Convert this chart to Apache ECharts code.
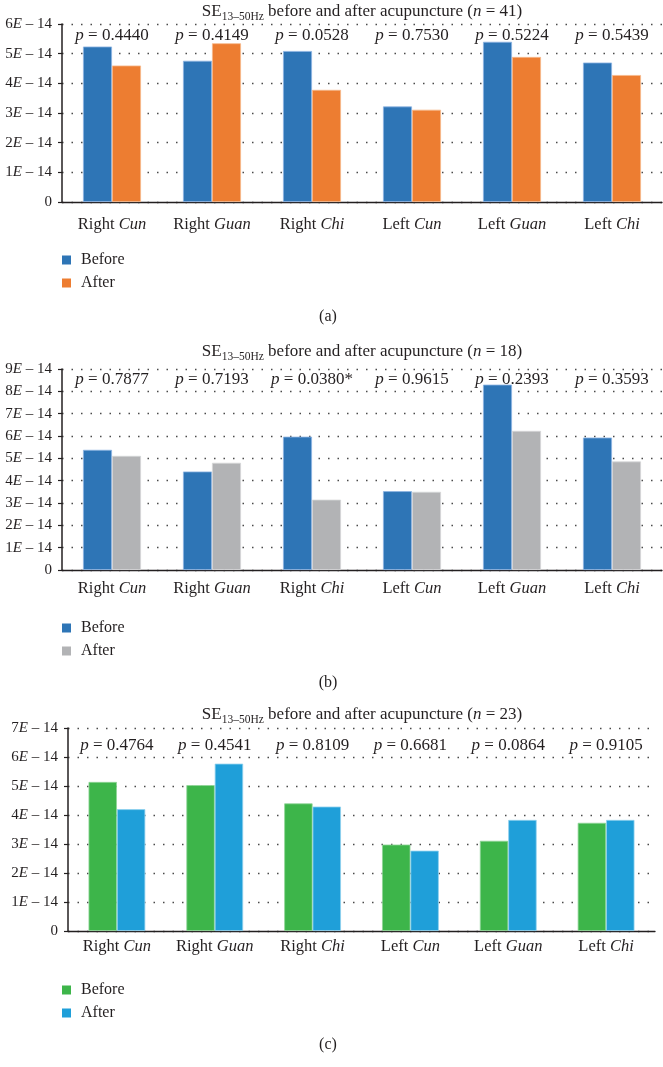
<!DOCTYPE html>
<html>
<head>
<meta charset="utf-8">
<script src="https://cdn.jsdelivr.net/npm/echarts@6/dist/echarts.min.js"></script>
<style>
html,body{margin:0;padding:0;background:#fff;}
.c{position:absolute;left:0;width:663px;}
</style>
</head>
<body>
<div id="ca" class="c" style="top:0;height:340px"></div>
<div id="cb" class="c" style="top:340px;height:360px"></div>
<div id="cc" class="c" style="top:700px;height:367px"></div>
<script>
// ---- data ----
const categories = ['Right Cun', 'Right Guan', 'Right Chi', 'Left Cun', 'Left Guan', 'Left Chi'];
const seriesNames = ['Before', 'After'];

const beforeA = [5.24e-14, 4.76e-14, 5.09e-14, 3.22e-14, 5.40e-14, 4.70e-14];
const afterA  = [4.60e-14, 5.35e-14, 3.78e-14, 3.11e-14, 4.89e-14, 4.28e-14];
const pA = ['0.4440', '0.4149', '0.0528', '0.7530', '0.5224', '0.5439'];

const beforeB = [5.38e-14, 4.41e-14, 5.97e-14, 3.53e-14, 8.30e-14, 5.93e-14];
const afterB  = [5.11e-14, 4.80e-14, 3.15e-14, 3.50e-14, 6.23e-14, 4.86e-14];
const pB = ['0.7877', '0.7193', '0.0380*', '0.9615', '0.2393', '0.3593'];

const beforeC = [5.14e-14, 5.03e-14, 4.40e-14, 2.98e-14, 3.11e-14, 3.73e-14];
const afterC  = [4.20e-14, 5.77e-14, 4.29e-14, 2.77e-14, 3.83e-14, 3.83e-14];
const pC = ['0.4764', '0.4541', '0.8109', '0.6681', '0.0864', '0.9105'];

const yMaxA = 6e-14, yMaxB = 9e-14, yMaxC = 7e-14;
const yInterval = 1e-14;
const nA = 41, nB = 18, nC = 23;

// ---- style ----
const FONT = '"Liberation Serif", "DejaVu Serif", serif';
const INK = '#231f20';

function makeOption(cfg) {
  return {
    animation: false,
    backgroundColor: '#fff',
    grid: { left: cfg.left, top: cfg.top, width: cfg.width, height: cfg.height, containLabel: false },
    xAxis: [{
      type: 'category',
      data: categories,
      position: 'bottom',
      axisLine: { lineStyle: { color: INK, width: 1.3 } },
      axisTick: { length: 5, lineStyle: { color: INK, width: 1.2 } },
      axisLabel: {
        margin: cfg.xMargin,
        interval: 0,
        formatter: function (v) {
          const parts = v.split(' ');
          return '{n|' + parts[0] + ' }{i|' + parts[1] + '}';
        },
        rich: {
          n: { fontFamily: FONT, fontSize: 16.5, color: INK, lineHeight: 16 },
          i: { fontFamily: FONT, fontSize: 16.5, color: INK, lineHeight: 16, fontStyle: 'italic' }
        }
      }
    }, {
      type: 'category',
      data: categories,
      position: 'top',
      axisLine: { show: false },
      axisTick: { show: false },
      axisLabel: {
        inside: true,
        margin: cfg.pMargin,
        interval: 0,
        formatter: function (v, idx) {
          return '{i|p}{n| = ' + cfg.p[idx] + '}';
        },
        rich: {
          n: { fontFamily: FONT, fontSize: 17, color: INK, lineHeight: 17 },
          i: { fontFamily: FONT, fontSize: 17, color: INK, lineHeight: 17, fontStyle: 'italic' }
        }
      }
    }],
    yAxis: {
      type: 'value',
      min: 0,
      max: cfg.yMax,
      interval: yInterval,
      axisLine: { show: true, lineStyle: { color: INK, width: 1.5 } },
      axisTick: { show: true, length: 4, lineStyle: { color: INK, width: 1.2 } },
      splitLine: { show: true, lineStyle: { type: [1.5, 8], color: '#4a4a4a', width: 1.4 } },
      axisLabel: {
        margin: 10,
        formatter: function (v) {
          const k = Math.round(v / yInterval);
          if (k === 0) return '{n|0}';
          return '{n|' + k + '}{i|E}{n| \u2013 14}';
        },
        rich: {
          n: { fontFamily: FONT, fontSize: 15, color: INK },
          i: { fontFamily: FONT, fontSize: 15, color: INK, fontStyle: 'italic' }
        }
      }
    },
    legend: {
      orient: 'vertical',
      left: 62,
      top: cfg.legendTop,
      padding: 0,
      itemWidth: 9,
      itemHeight: 9,
      itemGap: 7,
      icon: 'rect',
      selectedMode: false,
      itemStyle: { borderWidth: 0 },
      data: seriesNames,
      textStyle: { fontFamily: FONT, fontSize: 16, color: INK, lineHeight: 16, padding: [0, 0, 0, 5] }
    },
    series: [{
      name: seriesNames[0],
      type: 'bar',
      data: cfg.before,
      barGap: '0%',
      barCategoryGap: '42%',
      itemStyle: { color: cfg.colors[0], borderColor: cfg.borders[0], borderWidth: 0.8 }
    }, {
      name: seriesNames[1],
      type: 'bar',
      data: cfg.after,
      barGap: '0%',
      barCategoryGap: '42%',
      itemStyle: { color: cfg.colors[1], borderColor: cfg.borders[1], borderWidth: 0.8 }
    }],
    graphic: [{
      type: 'text',
      x: 362, y: cfg.titleY,
      style: {
        text: '{n|SE}{sub|13\u201350Hz}{n| before and after acupuncture (}{i|n}{n| = ' + cfg.n + ')}',
        align: 'center', verticalAlign: 'middle',
        rich: {
          n: { fontFamily: FONT, fontSize: 17, fill: INK, lineHeight: 21 },
          i: { fontFamily: FONT, fontSize: 17, fill: INK, lineHeight: 21, fontStyle: 'italic' },
          sub: { fontFamily: FONT, fontSize: 11.5, fill: INK, lineHeight: 11, verticalAlign: 'bottom' }
        }
      }
    }, {
      type: 'text',
      x: 328, y: cfg.capY,
      style: {
        text: cfg.cap, fontFamily: FONT, fontSize: 16, fill: INK,
        align: 'center', verticalAlign: 'middle'
      }
    }]
  };
}

const cfgA = {
  left: 62, top: 24, width: 600, height: 178, yMax: yMaxA,
  before: beforeA, after: afterA, p: pA, n: nA,
  colors: ['#2e75b6', '#ed7d31'], borders: ['#8db4e2', '#f6b98c'],
  xMargin: 15, pMargin: 3, legendTop: 252, titleY: 12, capY: 317, cap: '(a)'
};
const cfgB = {
  left: 62, top: 29, width: 600, height: 201, yMax: yMaxB,
  before: beforeB, after: afterB, p: pB, n: nB,
  colors: ['#2e75b6', '#b2b3b5'], borders: ['#8db4e2', '#d6d7d8'],
  xMargin: 11, pMargin: 2, legendTop: 280, titleY: 12, capY: 343, cap: '(b)'
};
const cfgC = {
  left: 68, top: 28, width: 587, height: 203, yMax: yMaxC,
  before: beforeC, after: afterC, p: pC, n: nC,
  colors: ['#3db54a', '#1f9fd9'], borders: ['#8fd497', '#8fd0ee'],
  xMargin: 8, pMargin: 9, legendTop: 282, titleY: 15, capY: 345, cap: '(c)'
};

echarts.init(document.getElementById('ca'), null, { renderer: 'canvas' }).setOption(makeOption(cfgA));
echarts.init(document.getElementById('cb'), null, { renderer: 'canvas' }).setOption(makeOption(cfgB));
echarts.init(document.getElementById('cc'), null, { renderer: 'canvas' }).setOption(makeOption(cfgC));
</script>
</body>
</html>
